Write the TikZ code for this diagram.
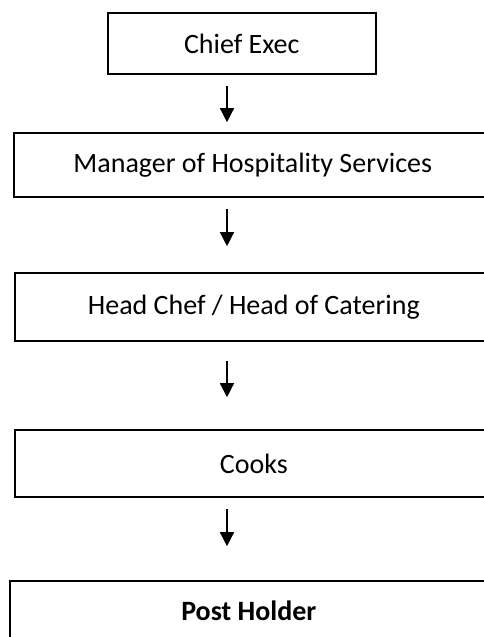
\documentclass[tikz,border=0pt]{standalone}
\usepackage{fontspec}
\setmainfont{Carlito}
\usetikzlibrary{arrows.meta}

% text is centred in the visible part, the box runs on past the right edge
\newcommand{\rolecell}[1]{\makebox[478pt]{#1}\hspace*{60pt}}

\begin{document}
\begin{tikzpicture}[x=1pt,y=-1pt,thick,
  role node/.style={draw,line width=1.6pt,inner sep=0pt,anchor=west,font=\fontsize{28}{33}\selectfont},
  arr/.style={-{Triangle[length=14pt,width=14pt]},line width=1.4pt}]

  \useasboundingbox (0,0) rectangle (484,637);
  \clip (0,0) rectangle (484,637);

  \node[role node, minimum width=268pt, minimum height=61pt] (1) at (107,43.5) {Chief Exec};
  \node[role node, minimum height=64pt] (2) at (13,165) {\rolecell{Manager of Hospitality Services}};
  \node[role node, minimum height=68pt] (3) at (14,307) {\rolecell{Head Chef / Head of Catering}};
  \node[role node, minimum height=67pt] (4) at (14,463.5) {\rolecell{Cooks}};
  \node[role node, minimum height=60pt] (5) at (9,611) {\rolecell{\bfseries Post Holder}};

  \coordinate (ax) at (227,0);

  \draw[arr, shorten <=11pt, shorten >=10pt] (1.south -| ax) -- (2.north -| ax);
  \draw[arr, shorten <=11pt, shorten >=26pt] (2.south -| ax) -- (3.north -| ax);
  \draw[arr, shorten <=19pt, shorten >=32pt] (3.south -| ax) -- (4.north -| ax);
  \draw[arr, shorten <=11pt, shorten >=34pt] (4.south -| ax) -- (5.north -| ax);

\end{tikzpicture}
\end{document}
